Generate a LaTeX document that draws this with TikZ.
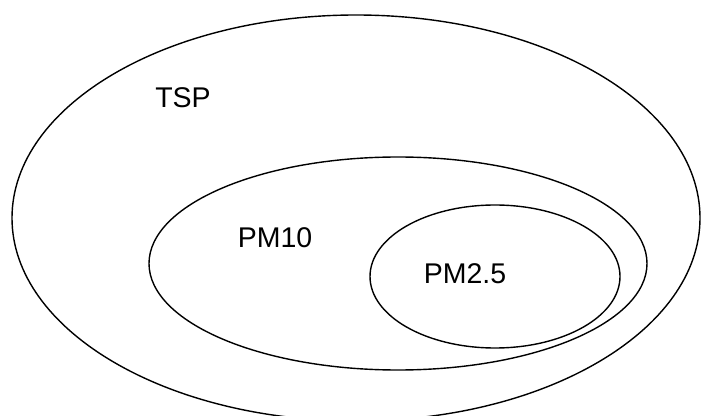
\documentclass[tikz,border=0pt]{standalone}
\usepackage{fontspec}
\setmainfont{Liberation Sans}
\begin{document}
\begin{tikzpicture}[x=1pt,y=1pt,
  setline/.style={draw=black, line width=1.4pt},
  lbl/.style={anchor=base, inner sep=0pt, font=\fontsize{28.5}{34}\selectfont}]
\useasboundingbox (0,0) rectangle (701,415);
\clip (0,0) rectangle (701,415);
\fill[white] (0,0) rectangle (701,415);
\coordinate (tsp) at (356,197);
\coordinate (pm10) at (398,151.5);
\coordinate (pm25) at (495,138.5);
\draw[setline] (tsp) ellipse [x radius=344, y radius=203];
\draw[setline] (pm10) ellipse [x radius=249, y radius=106.5];
\draw[setline] (pm25) ellipse [x radius=125, y radius=71.5];
\node[lbl] (tsplbl) at (183,307) {TSP};
\node[lbl] (pm10lbl) at (275,167) {PM10};
\node[lbl] (pm25lbl) at (465,131) {PM2.5};
\end{tikzpicture}
\end{document}
